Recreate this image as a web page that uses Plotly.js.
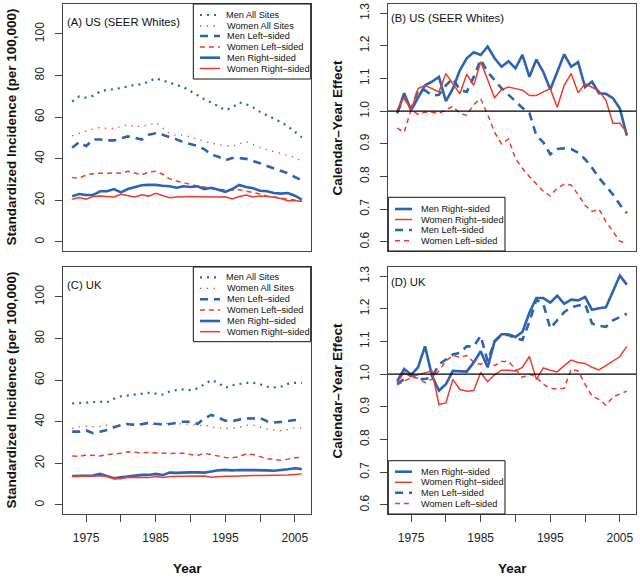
<!DOCTYPE html>
<html>
<head>
<meta charset="utf-8">
<script src="https://cdn.plot.ly/plotly-3.0.1.min.js"></script>
<style>
  html, body { margin: 0; padding: 0; background: #fff; }
  #chart { width: 640px; height: 577px; }
</style>
</head>
<body>
<div id="chart"></div>
<script>
// calendar years, 1973-2006
const years = [1973, 1974, 1975, 1976, 1977, 1978, 1979, 1980, 1981, 1982, 1983, 1984,
  1985, 1986, 1987, 1988, 1989, 1990, 1991, 1992, 1993, 1994, 1995, 1996, 1997, 1998,
  1999, 2000, 2001, 2002, 2003, 2004, 2005, 2006];
const tickYears = [1975, 1980, 1985, 1990, 1995, 2000, 2005];
const tickYearText = ['1975', '', '1985', '', '1995', '', '2005'];

// (A) US standardized incidence per 100,000
const usMenAll = [67.5, 69.9, 69.4, 70.2, 72.3, 73.1, 73.4, 73.9, 74.7, 75.5, 75.8, 77.1, 78.7, 77.6, 76.6, 75.3, 74.4, 72.5, 70.4, 68.6, 67.0, 65.0, 63.4, 64.5, 67.0, 66.2, 64.6, 62.5, 60.9, 59.3, 57.6, 55.6, 53.0, 50.2];
const usWomenAll = [51.0, 52.3, 53.3, 54.3, 55.0, 54.6, 54.5, 55.5, 56.4, 55.3, 55.7, 56.2, 57.4, 54.8, 52.2, 51.1, 51.4, 50.4, 49.3, 48.4, 47.4, 46.8, 46.2, 46.0, 47.2, 48.2, 46.9, 45.3, 44.3, 43.4, 42.3, 41.6, 40.6, 38.7];
const usMenLeft = [45.3, 48.0, 46.0, 49.2, 49.2, 48.8, 48.8, 49.8, 50.7, 50.0, 49.2, 51.5, 52.2, 51.5, 50.5, 49.3, 47.9, 47.2, 46.2, 44.5, 42.0, 40.9, 39.2, 40.3, 40.3, 39.9, 38.9, 37.8, 36.5, 35.3, 34.3, 33.0, 31.2, 29.6];
const usWomenLeft = [31.0, 30.5, 32.2, 32.8, 33.0, 33.0, 32.8, 33.1, 33.9, 33.0, 32.3, 33.5, 34.0, 32.5, 30.3, 29.3, 28.5, 27.6, 26.8, 26.4, 25.6, 25.2, 24.9, 24.8, 25.1, 24.5, 23.8, 23.0, 22.1, 21.6, 21.0, 20.4, 20.0, 19.5];
const usMenRight = [21.9, 23.0, 22.5, 22.5, 24.3, 24.3, 25.4, 23.8, 25.4, 26.4, 27.2, 27.4, 27.4, 27.0, 26.7, 26.0, 26.7, 26.4, 26.7, 25.4, 26.0, 25.0, 24.0, 25.4, 27.4, 26.4, 25.8, 24.6, 24.3, 23.5, 23.2, 23.5, 22.2, 20.3];
const usWomenRight = [20.5, 21.3, 20.5, 21.8, 22.0, 21.8, 21.6, 22.9, 22.3, 21.6, 22.6, 22.0, 23.4, 22.2, 21.2, 21.6, 21.8, 21.8, 21.7, 21.6, 21.5, 21.6, 21.7, 20.6, 21.8, 22.5, 21.6, 22.0, 21.8, 21.5, 20.8, 19.8, 19.8, 19.5];

// (B) US calendar-year effect
const usEffMenRight = [0.993, 1.055, 1.003, 1.04, 1.079, 1.09, 1.105, 1.031, 1.069, 1.125, 1.162, 1.18, 1.172, 1.198, 1.162, 1.136, 1.153, 1.131, 1.172, 1.105, 1.158, 1.12, 1.066, 1.12, 1.174, 1.136, 1.15, 1.074, 1.09, 1.055, 1.053, 1.04, 1.008, 0.925];
const usEffWomenRight = [1.002, 1.043, 1.002, 1.069, 1.079, 1.069, 1.059, 1.115, 1.084, 1.053, 1.113, 1.079, 1.151, 1.095, 1.041, 1.066, 1.074, 1.069, 1.064, 1.048, 1.048, 1.059, 1.069, 1.012, 1.079, 1.115, 1.056, 1.084, 1.072, 1.062, 1.033, 0.963, 0.963, 0.935];
const usEffMenLeft = [0.997, 1.043, 1.005, 1.064, 1.064, 1.048, 1.05, 1.079, 1.1, 1.065, 1.059, 1.105, 1.158, 1.12, 1.095, 1.07, 1.05, 1.03, 1.01, 0.995, 0.925, 0.905, 0.868, 0.884, 0.886, 0.884, 0.873, 0.853, 0.827, 0.796, 0.771, 0.745, 0.714, 0.688];
const usEffWomenLeft = [0.948, 0.935, 1.005, 0.99, 0.997, 0.997, 0.993, 1.005, 1.015, 0.993, 0.987, 1.02, 1.038, 0.99, 0.935, 0.9, 0.915, 0.855, 0.825, 0.8, 0.778, 0.755, 0.74, 0.765, 0.776, 0.774, 0.745, 0.712, 0.693, 0.7, 0.662, 0.632, 0.602, 0.595];

// (C) UK standardized incidence per 100,000
const ukMenAll = [48.8, 49.0, 49.3, 49.2, 49.6, 49.3, 51.0, 52.2, 52.6, 52.8, 53.3, 53.9, 53.5, 53.0, 54.5, 55.2, 55.5, 55.2, 56.0, 58.2, 60.0, 58.7, 56.3, 57.5, 58.0, 58.7, 58.7, 58.0, 56.8, 56.5, 56.8, 58.2, 58.7, 58.7];
const ukWomenAll = [36.8, 37.5, 37.8, 37.6, 37.9, 38.3, 37.6, 38.4, 39.3, 39.0, 38.8, 39.2, 38.5, 38.8, 39.3, 39.0, 39.0, 38.8, 38.0, 38.5, 37.3, 37.0, 36.7, 36.8, 37.3, 38.3, 38.4, 37.5, 36.4, 36.0, 35.7, 36.2, 37.2, 37.0];
const ukMenLeft = [35.2, 35.2, 35.8, 34.5, 35.2, 36.0, 37.3, 38.4, 38.9, 38.4, 38.8, 39.5, 39.0, 38.6, 38.9, 39.6, 40.0, 40.0, 38.9, 41.6, 43.3, 42.0, 40.5, 40.3, 41.0, 41.6, 41.5, 41.8, 40.2, 39.6, 39.9, 40.5, 40.8, 41.0];
const ukWomenLeft = [23.5, 23.3, 24.0, 23.8, 23.5, 24.2, 24.5, 24.8, 25.5, 25.3, 25.0, 25.2, 25.0, 24.8, 24.7, 24.9, 24.8, 24.2, 23.8, 24.8, 24.2, 23.5, 22.8, 22.6, 23.2, 24.5, 24.2, 23.2, 22.2, 21.8, 21.5, 22.0, 22.6, 22.8];
const ukMenRight = [13.9, 13.9, 13.9, 14.1, 14.9, 13.9, 12.8, 13.2, 13.6, 13.9, 14.4, 14.4, 14.9, 14.3, 15.5, 15.4, 15.6, 15.6, 15.6, 15.5, 16.0, 16.6, 16.8, 16.6, 16.8, 16.8, 16.8, 16.8, 16.6, 16.4, 16.6, 17.1, 17.6, 17.2];
const ukWomenRight = [13.6, 13.6, 13.6, 13.9, 14.0, 13.6, 12.5, 12.6, 13.3, 13.3, 13.1, 13.1, 13.6, 13.2, 13.6, 13.6, 13.7, 13.7, 13.8, 13.9, 13.3, 13.6, 13.7, 13.7, 13.9, 14.1, 14.1, 14.1, 14.1, 14.1, 14.2, 14.3, 14.6, 14.9];

// (D) UK calendar-year effect
const ukEffMenRight = [0.979, 1.016, 0.998, 1.021, 1.085, 0.995, 0.95, 0.969, 1.01, 1.01, 1.008, 1.036, 1.07, 1.021, 1.101, 1.122, 1.122, 1.114, 1.129, 1.188, 1.233, 1.233, 1.219, 1.24, 1.215, 1.228, 1.226, 1.236, 1.197, 1.202, 1.205, 1.253, 1.302, 1.274];
const ukEffWomenRight = [0.974, 1.005, 0.992, 0.998, 1.005, 1.01, 0.907, 0.912, 0.984, 0.953, 0.948, 0.95, 1.005, 0.977, 0.998, 1.012, 1.012, 1.01, 1.021, 1.054, 0.984, 1.019, 1.012, 1.007, 1.026, 1.043, 1.036, 1.033, 1.021, 1.013, 1.026, 1.041, 1.054, 1.085];
const ukEffMenLeft = [0.97, 0.985, 1.0, 0.985, 0.985, 0.99, 1.03, 1.045, 1.06, 1.065, 1.085, 1.085, 1.117, 1.04, 1.1, 1.12, 1.12, 1.11, 1.105, 1.16, 1.228, 1.215, 1.14, 1.165, 1.19, 1.205, 1.21, 1.215, 1.155, 1.148, 1.145, 1.165, 1.175, 1.185];
const ukEffWomenLeft = [0.967, 0.979, 0.99, 0.988, 0.974, 0.985, 1.01, 1.041, 1.057, 1.052, 1.057, 1.036, 1.03, 1.041, 1.026, 1.039, 1.039, 1.015, 0.99, 1.0, 0.99, 0.969, 0.957, 0.954, 0.957, 1.015, 1.01, 0.969, 0.933, 0.923, 0.905, 0.93, 0.94, 0.948];

const BLUE = '#2c63b3';
const RED = '#ee3b2c';
const FONT = 'Liberation Sans, Arial, Helvetica, sans-serif';

const styles = {
    menAll: { color: BLUE, width: 2.2, dash: '2px,5px' },
    womenAll: { color: RED, width: 1.3, dash: '1.3px,5.5px' },
    menLeft: { color: BLUE, width: 2.6, dash: '8px,6px' },
    womenLeft: { color: RED, width: 1.5, dash: '5px,4px' },
    menRight: { color: BLUE, width: 2.6 },
    womenRight: { color: RED, width: 1.5 }
};
const names = {
    menAll: 'Men All Sites', womenAll: 'Women All Sites',
    menLeft: 'Men Left–sided', womenLeft: 'Women Left–sided',
    menRight: 'Men Right–sided', womenRight: 'Women Right–sided'
};

function line(y, key, ax) {
    return {
        x: years, y: y, type: 'scatter', mode: 'lines',
        xaxis: 'x' + ax, yaxis: 'y' + ax,
        line: styles[key], name: names[key], showlegend: false, hoverinfo: 'skip'
    };
}

const traces = [
    line(usMenAll, 'menAll', ''), line(usWomenAll, 'womenAll', ''),
    line(usMenLeft, 'menLeft', ''), line(usWomenLeft, 'womenLeft', ''),
    line(usMenRight, 'menRight', ''), line(usWomenRight, 'womenRight', ''),
    line(usEffMenLeft, 'menLeft', '2'), line(usEffWomenLeft, 'womenLeft', '2'),
    line(usEffMenRight, 'menRight', '2'), line(usEffWomenRight, 'womenRight', '2'),
    line(ukMenAll, 'menAll', '3'), line(ukWomenAll, 'womenAll', '3'),
    line(ukMenLeft, 'menLeft', '3'), line(ukWomenLeft, 'womenLeft', '3'),
    line(ukMenRight, 'menRight', '3'), line(ukWomenRight, 'womenRight', '3'),
    line(ukEffMenLeft, 'menLeft', '4'), line(ukEffWomenLeft, 'womenLeft', '4'),
    line(ukEffMenRight, 'menRight', '4'), line(ukEffWomenRight, 'womenRight', '4')
];

// pixel -> paper helpers (plot area is 63..636 x 4..514)
const PX = px => (px - 63) / 573;
const PY = py => (514 - py) / 510;

function xAxis(dom, anchor, labels) {
    return {
        domain: dom, anchor: anchor, range: [1971.68, 2007.32],
        showgrid: false, zeroline: false,
        showline: true, mirror: true, linecolor: '#444', linewidth: 1,
        ticks: labels ? 'outside' : '', ticklen: 7, tickcolor: '#444',
        showticklabels: labels, tickvals: tickYears, ticktext: tickYearText,
        ticklabelstandoff: 6,
        tickfont: { family: FONT, size: 12, color: '#222' }
    };
}
function yAxis(dom, anchor, range, vals, fmt) {
    return {
        domain: dom, anchor: anchor, range: range,
        showgrid: false, zeroline: false,
        showline: true, mirror: true, linecolor: '#444', linewidth: 1,
        ticks: 'outside', ticklen: 7, tickcolor: '#444',
        tickvals: vals, tickformat: fmt, tickangle: -90,
        ticklabelstandoff: 6,
        tickfont: { family: FONT, size: 12, color: '#222' }
    };
}

const incTicks = [0, 20, 40, 60, 80, 100];
const effTicks = [0.6, 0.7, 0.8, 0.9, 1.0, 1.1, 1.2, 1.3];
const topDom = [0.5157, 1], botDom = [0, 0.4843];
const leftDom = [0, 0.4328], rightDom = [0.5672, 1];

const shapes = [];
const annotations = [];

function text(str, px, py, opts) {
    annotations.push(Object.assign({
        text: str, xref: 'paper', yref: 'paper', x: PX(px), y: PY(py),
        xanchor: 'left', yanchor: 'middle', showarrow: false,
        font: { family: FONT, size: 11.3, color: '#111' }
    }, opts || {}));
}

// hand-drawn legend, R style
function legend(keys, box, sx0, sx1, tx, rowsY) {
    shapes.push({
        type: 'rect', xref: 'paper', yref: 'paper',
        x0: PX(box[0]), x1: PX(box[1]), y0: PY(box[2]), y1: PY(box[3]),
        line: { color: '#111', width: 1 }, fillcolor: 'rgba(0,0,0,0)'
    });
    keys.forEach((k, i) => {
        const st = styles[k];
        shapes.push({
            type: 'line', xref: 'paper', yref: 'paper',
            x0: PX(sx0), x1: PX(sx1), y0: PY(rowsY[i]), y1: PY(rowsY[i]),
            line: { color: st.color, width: st.width, dash: st.dash || 'solid' }
        });
        text(names[k], tx, rowsY[i], { font: { family: FONT, size: 9.2, color: '#111' } });
    });
}

const sixKeys = ['menAll', 'womenAll', 'menLeft', 'womenLeft', 'menRight', 'womenRight'];
const fourKeys = ['menRight', 'womenRight', 'menLeft', 'womenLeft'];
legend(sixKeys, [193.3, 310.7, 4, 79], 200, 220, 224.5, [15, 26, 36, 47, 57.7, 68.5]);
legend(sixKeys, [193.3, 310.7, 267, 341.7], 200, 220, 224.5, [277.3, 288.3, 299.3, 310, 321, 331.7]);
legend(fourKeys, [388.3, 505, 197.3, 251], 395, 412, 418.5, [209, 219.5, 230, 240.7]);
legend(fourKeys, [388.3, 505, 460.7, 514], 395, 412, 418.5, [471.7, 482.3, 492.7, 503.5]);

// reference line at 1.0
['2', '4'].forEach(a => shapes.push({
    type: 'line', xref: 'x' + a + ' domain', yref: 'y' + a,
    x0: 0, x1: 1, y0: 1, y1: 1, line: { color: '#000', width: 1.2 }
}));

// panel labels
text('(A) US (SEER Whites)', 65, 21.7);
text('(B) US (SEER Whites)', 389, 18.3);
text('(C) UK', 65, 285);
text('(D) UK', 389, 281.7);

// axis titles
const titleFont = { family: FONT, size: 13.5, color: '#111', weight: 'bold' };
function vtitle(str, px, py) {
    text('<b>' + str + '</b>', px, py, { xanchor: 'center', textangle: -90, font: titleFont });
}
vtitle('Standardized Incidence (per 100,000)', 11, 127.5);
vtitle('Standardized Incidence (per 100,000)', 11, 390.5);
vtitle('Calendar–Year Effect', 337, 127.5);
vtitle('Calendar–Year Effect', 337, 390.5);
text('<b>Year</b>', 187, 568, { xanchor: 'center', font: titleFont });
text('<b>Year</b>', 512, 568, { xanchor: 'center', font: titleFont });

const layout = {
    width: 640, height: 577,
    margin: { l: 63, r: 4, t: 4, b: 63 },
    paper_bgcolor: '#fff', plot_bgcolor: '#fff',
    showlegend: false,
    font: { family: FONT, color: '#111' },
    xaxis: xAxis(leftDom, 'y', false),
    yaxis: yAxis(topDom, 'x', [-4.4, 114.4], incTicks, 'd'),
    xaxis2: xAxis(rightDom, 'y2', false),
    yaxis2: yAxis(topDom, 'x2', [0.572, 1.328], effTicks, '.1f'),
    xaxis3: xAxis(leftDom, 'y3', true),
    yaxis3: yAxis(botDom, 'x3', [-4.4, 114.4], incTicks, 'd'),
    xaxis4: xAxis(rightDom, 'y4', true),
    yaxis4: yAxis(botDom, 'x4', [0.572, 1.328], effTicks, '.1f'),
    shapes: shapes,
    annotations: annotations
};

Plotly.newPlot('chart', traces, layout, { displayModeBar: false, staticPlot: true });
</script>
</body>
</html>
